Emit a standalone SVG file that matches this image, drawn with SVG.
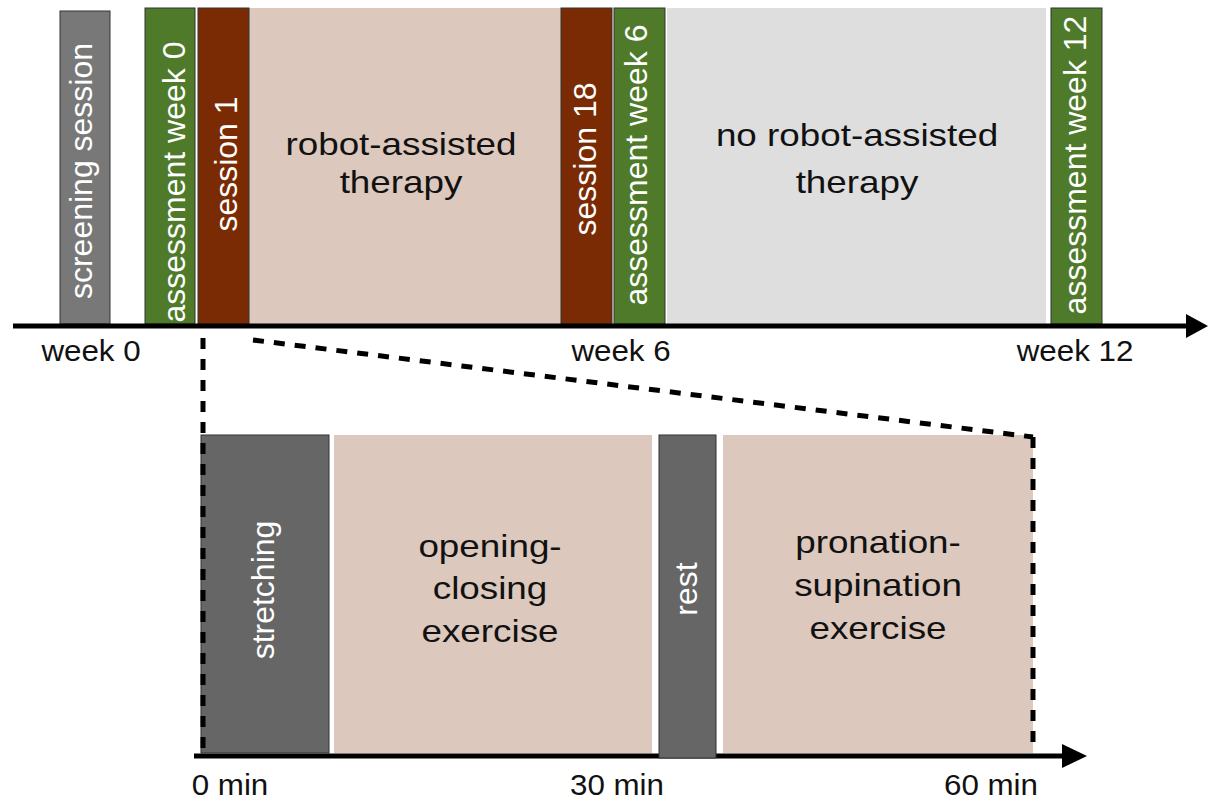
<svg xmlns="http://www.w3.org/2000/svg" width="1208" height="803" viewBox="0 0 1208 803">
<style>
  .bar { stroke: #333333; stroke-width: 1; }
  .grey { fill: #787878; }
  .green { fill: #4e7a2a; }
  .brown { fill: #7b2b03; }
  .pale { fill: #dcc8bd; }
  .light { fill: #dedede; }
  .dark { fill: #666666; }
  .vt { font-family: "Liberation Sans", Arial, sans-serif; font-size: 32px; fill: #ffffff; text-anchor: middle; }
  .big { font-family: "Liberation Sans", Arial, sans-serif; font-size: 32px; fill: #111111; text-anchor: middle; }
  .lab { font-family: "Liberation Sans", Arial, sans-serif; font-size: 29px; fill: #111111; text-anchor: middle; }
  .axis { stroke: #000000; stroke-width: 5; fill: none; }
  .dash { stroke: #000000; stroke-width: 5; fill: none; stroke-dasharray: 11 10; }
</style>

<g id="top-phases">
  <g id="robot-therapy">
    <rect class="pale" x="249" y="8" width="312" height="316"/>
    <text class="big" transform="translate(401,155) scale(1.15,1)">robot-assisted</text>
    <text class="big" transform="translate(401,193) scale(1.15,1)">therapy</text>
  </g>
  <g id="no-robot-therapy">
    <rect class="light" x="667" y="8" width="379" height="316"/>
    <text class="big" transform="translate(857,146) scale(1.15,1)">no robot-assisted</text>
    <text class="big" transform="translate(857,193) scale(1.15,1)">therapy</text>
  </g>
  <g id="screening">
    <rect class="bar grey" x="60" y="11" width="50" height="313"/>
    <text class="vt" transform="translate(92,171) rotate(-90)">screening session</text>
  </g>
  <g id="assessment-0">
    <rect class="bar green" x="145" y="8" width="50" height="316"/>
    <text class="vt" transform="translate(185,182) rotate(-90)">assessment week 0</text>
  </g>
  <g id="session-1">
    <rect class="bar brown" x="198" y="8" width="51" height="316"/>
    <text class="vt" transform="translate(237,164) rotate(-90)">session 1</text>
  </g>
  <g id="session-18">
    <rect class="bar brown" x="561" y="8" width="51" height="316"/>
    <text class="vt" transform="translate(596,159) rotate(-90)">session 18</text>
  </g>
  <g id="assessment-6">
    <rect class="bar green" x="614" y="8" width="51" height="316"/>
    <text class="vt" transform="translate(647,165) rotate(-90)">assessment week 6</text>
  </g>
  <g id="assessment-12">
    <rect class="bar green" x="1051" y="8" width="51" height="316"/>
    <text class="vt" transform="translate(1086,165) rotate(-90)">assessment week 12</text>
  </g>
</g>

<g id="bottom-phases">
  <g id="stretching">
    <rect class="bar dark" x="201" y="435" width="128" height="318"/>
    <text class="vt" transform="translate(274,590) rotate(-90)">stretching</text>
  </g>
  <g id="opening-closing">
    <rect class="pale" x="334" y="435" width="318" height="318"/>
    <text class="big" transform="translate(490,557) scale(1.15,1)">opening-</text>
    <text class="big" transform="translate(490,599) scale(1.15,1)">closing</text>
    <text class="big" transform="translate(490,642) scale(1.15,1)">exercise</text>
  </g>
  <g id="pronation-supination">
    <rect class="pale" x="723" y="435" width="310" height="318"/>
    <text class="big" transform="translate(878,553) scale(1.15,1)">pronation-</text>
    <text class="big" transform="translate(878,596) scale(1.15,1)">supination</text>
    <text class="big" transform="translate(878,639) scale(1.15,1)">exercise</text>
  </g>
</g>

<g id="connectors">
  <line class="axis" x1="13" y1="326" x2="1190" y2="326"/>
  <polygon points="1186,314 1208,326 1186,338" fill="#000000"/>
  <line class="axis" x1="194" y1="756" x2="1065" y2="756"/>
  <polygon points="1062,744 1087,756 1062,768" fill="#000000"/>
  <line class="dash" x1="203" y1="338" x2="203" y2="755"/>
  <line class="dash" x1="253" y1="340" x2="1033" y2="437"/>
  <line class="dash" x1="1033" y1="437" x2="1033" y2="745"/>
</g>

<g id="rest">
  <rect class="bar dark" x="659" y="435" width="57" height="323"/>
  <text class="vt" transform="translate(697,589) rotate(-90)">rest</text>
</g>

<g id="axis-labels">
  <text class="lab" transform="translate(91,361) scale(1.08,1)">week 0</text>
  <text class="lab" transform="translate(621,361) scale(1.08,1)">week 6</text>
  <text class="lab" transform="translate(1075,361) scale(1.08,1)">week 12</text>
  <text class="lab" transform="translate(230,795) scale(1.08,1)">0 min</text>
  <text class="lab" transform="translate(617,795) scale(1.08,1)">30 min</text>
  <text class="lab" transform="translate(991,795) scale(1.08,1)">60 min</text>
</g>
</svg>
